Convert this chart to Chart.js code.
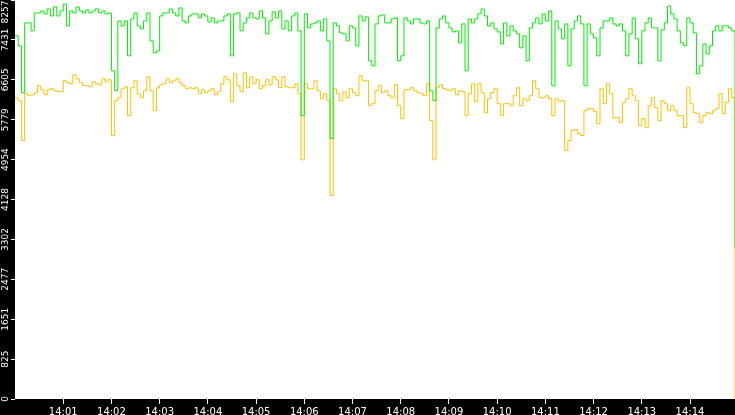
<!DOCTYPE html>
<html>
<head>
<meta charset="utf-8">
<script src="https://cdn.jsdelivr.net/npm/chart.js@4.4.1/dist/chart.umd.min.js"></script>
<style>
  html, body { margin: 0; padding: 0; background: #000; }
  #wrap { width: 735px; height: 415px; }
</style>
</head>
<body>
<div id="wrap"><canvas id="trafficChart" width="735" height="415"></canvas></div>
<script>
// one sample every 4 seconds, starting 14:00:00
const startHour = 14;
const sampleStep = 4;
const sampleCount = 225;

// axis ticks
const yTickValues = [0, 825, 1651, 2477, 3302, 4128, 4954, 5779, 6605, 7431, 8257];
const xTickLabels = ['14:01', '14:02', '14:03', '14:04', '14:05', '14:06', '14:07',
                     '14:08', '14:09', '14:10', '14:11', '14:12', '14:13', '14:14'];

// upper (green) series
const greenValues = [
    7515, 7308, 6338, 7783, 7783, 7618, 7989, 7989, 8031, 7969,
    8072, 7927, 8113, 7927, 8031, 8175, 7721, 8031, 7989, 8113,
    8031, 7989, 8051, 7989, 8031, 8072, 7989, 8031, 7969, 7989,
    6792, 6379, 7824, 7721, 7824, 7102, 7866, 7989, 7721, 7659,
    7824, 7989, 7411, 7164, 7205, 7927, 7989, 7989, 8072, 7989,
    7927, 8093, 7824, 7783, 7927, 7969, 7969, 7886, 7969, 7927,
    7804, 7886, 7783, 7824, 7824, 7927, 7969, 7102, 7969, 7989,
    7618, 7783, 7886, 7989, 7886, 7866, 8031, 7886, 7556, 7824,
    8010, 7886, 8031, 7659, 7824, 7618, 7927, 7989, 7618, 5863,
    7969, 7680, 7762, 7783, 7824, 7618, 7866, 7411, 5389, 7783,
    7721, 7577, 7556, 7411, 7721, 7680, 7308, 7927, 7824, 7907,
    6999, 6895, 7762, 7927, 7948, 7783, 7783, 7866, 7886, 6999,
    7102, 7886, 7824, 7762, 7866, 7866, 7783, 7762, 7824, 6379,
    6173, 7680, 7866, 7927, 7783, 7680, 7597, 7618, 7370, 7762,
    6792, 7866, 7783, 7866, 7969, 8072, 7927, 7721, 7783, 7659,
    7597, 7349, 7783, 7515, 7721, 7618, 7556, 7267, 7515, 6999,
    7680, 7783, 7886, 7762, 7969, 7824, 8031, 6483, 7824, 7659,
    7453, 7762, 6895, 7659, 7824, 7927, 7762, 6483, 7762, 7556,
    7473, 7102, 7680, 7824, 7824, 7886, 7762, 7721, 7762, 7618,
    7102, 7556, 7886, 7453, 6937, 7618, 7783, 7886, 7680, 7680,
    6999, 7638, 7783, 8134, 7969, 7866, 7618, 7370, 7308, 7886,
    7783, 7577, 6730, 6895, 7349, 7143, 7308, 7618, 7721, 7618,
    7721, 7721, 7680, 7618, 3118
];

// lower (orange) series
const orangeValues = [
    6235, 6173, 5348, 6317, 6276, 6297, 6338, 6483, 6400, 6297,
    6400, 6421, 6379, 6359, 6359, 6586, 6544, 6524, 6710, 6627,
    6544, 6483, 6483, 6462, 6565, 6524, 6503, 6627, 6565, 6606,
    5450, 6173, 6235, 6421, 6462, 5863, 6441, 6586, 6317, 6235,
    6379, 6668, 6379, 5967, 6441, 6503, 6524, 6627, 6544, 6586,
    6627, 6544, 6483, 6421, 6441, 6421, 6441, 6317, 6400, 6338,
    6379, 6421, 6297, 6359, 6524, 6668, 6606, 6150, 6730, 6483,
    6359, 6751, 6441, 6668, 6524, 6606, 6421, 6483, 6606, 6503,
    6668, 6606, 6441, 6668, 6462, 6441, 6441, 6524, 6317, 4950,
    6524, 6421, 6421, 6586, 6379, 6214, 6317, 6173, 4212, 6421,
    6317, 6173, 6359, 6235, 6421, 6338, 6276, 6689, 6586, 6586,
    6070, 6111, 6379, 6483, 6338, 6379, 6276, 6235, 6503, 6070,
    5801, 6400, 6400, 6441, 6379, 6338, 6317, 6276, 6524, 5760,
    4950, 6441, 6503, 6421, 6400, 6379, 6421, 6297, 6379, 6359,
    5863, 6317, 6524, 6152, 6524, 6338, 5925, 6214, 6338, 6421,
    6111, 5863, 6111, 6111, 6070, 6276, 6441, 6070, 6214, 6173,
    6276, 6586, 6421, 6235, 6235, 6276, 6214, 5863, 6214, 6152,
    6173, 5141, 5348, 5554, 5574, 5492, 5451, 5967, 6008, 6008,
    5946, 5698, 6421, 6111, 6524, 6317, 5822, 5822, 5719, 6132,
    6214, 6421, 6276, 6173, 5657, 5801, 5616, 6070, 6235, 6029,
    5760, 6173, 6111, 5967, 6070, 5967, 5863, 5863, 5616, 6441,
    6111, 5925, 5905, 5719, 5863, 5925, 5905, 5967, 6008, 6317,
    5905, 6132, 6421, 6235, 0
];

// sample time labels (categories)
const sampleTimes = [];
for (let i = 0; i < sampleCount; i++) {
    const s = i * sampleStep;
    const mm = String(Math.floor(s / 60)).padStart(2, '0');
    const ss = String(s % 60).padStart(2, '0');
    sampleTimes.push(startHour + ':' + mm + ':' + ss);
}

// paint the plot area white, the rest stays black
const plotBackground = {
    id: 'plotBackground',
    beforeDraw(chart) {
        const { ctx, chartArea } = chart;
        ctx.save();
        ctx.fillStyle = '#000';
        ctx.fillRect(0, 0, chart.width, chart.height);
        ctx.fillStyle = '#fff';
        ctx.fillRect(chartArea.left, chartArea.top, chartArea.right - chartArea.left, chartArea.bottom - chartArea.top);
        ctx.restore();

        // keep the topmost y label inside the canvas
        const yScale = chart.scales.y;
        const items = yScale.getLabelItems();
        items.forEach(item => {
            if (item.label === String(yTickValues[yTickValues.length - 1])) {
                item.options.translation[1] = chartArea.top + 12;
            }
        });
    }
};

new Chart(document.getElementById('trafficChart').getContext('2d'), {
    type: 'line',
    data: {
        labels: sampleTimes,
        datasets: [{
            label: 'upper',
            data: greenValues,
            borderColor: '#00ee00',
            borderWidth: 1,
            stepped: true,
            pointRadius: 0,
            fill: false
        }, {
            label: 'lower',
            data: orangeValues,
            borderColor: '#ffc000',
            borderWidth: 1,
            stepped: true,
            pointRadius: 0,
            fill: false
        }]
    },
    options: {
        responsive: false,
        devicePixelRatio: 1,
        animation: false,
        layout: { padding: 0 },
        plugins: {
            legend: { display: false },
            tooltip: { enabled: false }
        },
        scales: {
            x: {
                offset: false,
                afterBuildTicks: function(scale) {
                    scale.ticks = scale.ticks.filter(t => t.value > 0 && t.value % 15 === 0);
                },
                afterFit: function(scale) { scale.height = 16; },
                ticks: {
                    autoSkip: false,
                    maxRotation: 0,
                    minRotation: 0,
                    padding: 2,
                    color: '#fff',
                    font: { family: 'DejaVu Sans', size: 10 },
                    callback: function(value) {
                        return xTickLabels[value / 15 - 1];
                    }
                },
                grid: { drawOnChartArea: false, color: '#fff', tickLength: 5 },
                border: { display: false }
            },
            y: {
                min: 0,
                max: 8257,
                afterBuildTicks: function(scale) {
                    scale.ticks = yTickValues.map(v => ({ value: v }));
                },
                afterFit: function(scale) { scale.width = 15; },
                ticks: {
                    minRotation: 90,
                    maxRotation: 90,
                    crossAlign: 'center',
                    padding: -6,
                    color: '#fff',
                    font: { family: 'DejaVu Sans', size: 9 },
                    callback: function(value) { return String(value); }
                },
                grid: { drawOnChartArea: false, color: '#fff', tickLength: 4 },
                border: { display: false }
            }
        }
    },
    plugins: [plotBackground]
});
</script>
</body>
</html>
